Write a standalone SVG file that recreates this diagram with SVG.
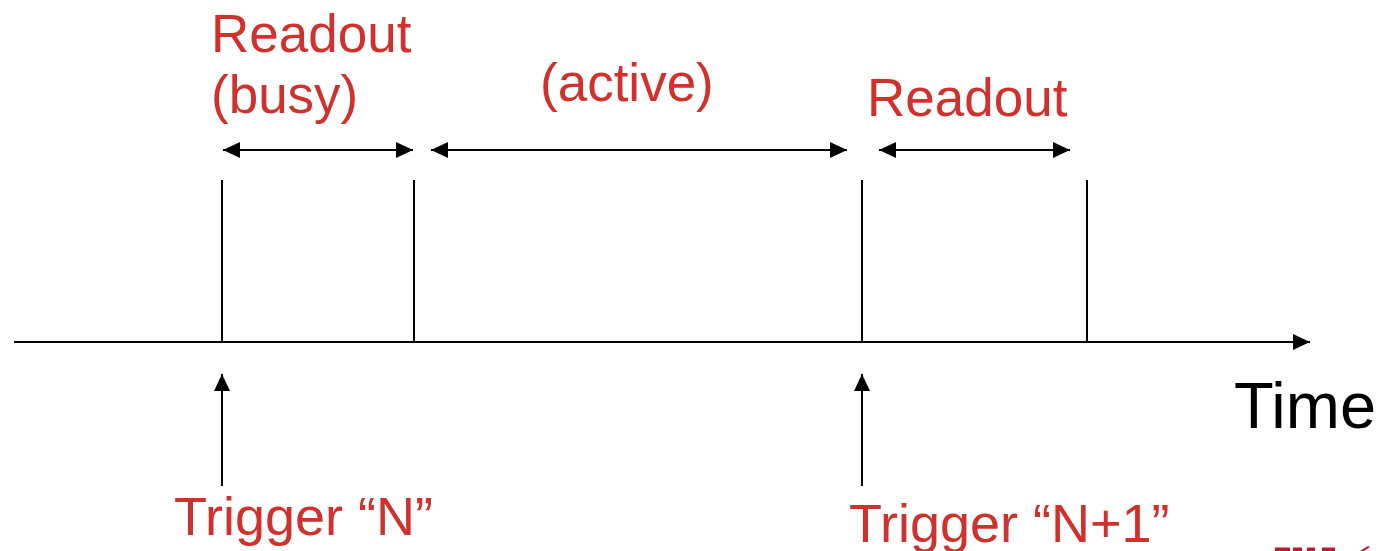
<svg xmlns="http://www.w3.org/2000/svg" width="1381" height="551" viewBox="0 0 1381 551">
<style>
.lbl{font-family:"Liberation Sans",Arial,sans-serif;font-size:53px;fill:#d0312d}
.trg{font-family:"Liberation Sans",Arial,sans-serif;font-size:54px;fill:#d0312d}
.blk{font-family:"Liberation Sans",Arial,sans-serif;font-size:65px;fill:#000}
.ln{stroke:#000;stroke-width:2;fill:none}
.arr{stroke:#000;stroke-width:2;fill:none;marker-end:url(#ah)}
.darr{stroke:#000;stroke-width:2;fill:none;marker-end:url(#ah);marker-start:url(#ah)}
.frag{fill:#c0192d}
</style>
<defs>
<marker id="ah" markerUnits="userSpaceOnUse" markerWidth="18" markerHeight="16" refX="17" refY="8" orient="auto-start-reverse">
<path d="M0,0 L17,8 L0,16 z" fill="#000"/>
</marker>
</defs>
<g id="connectors">
<line class="arr" x1="14" y1="342" x2="1310" y2="342"/>
<line class="ln" x1="222" y1="180" x2="222" y2="342"/>
<line class="ln" x1="414" y1="180" x2="414" y2="342"/>
<line class="ln" x1="862" y1="180" x2="862" y2="342"/>
<line class="ln" x1="1087" y1="180" x2="1087" y2="342"/>
<line class="darr" x1="223" y1="150" x2="413" y2="150"/>
<line class="darr" x1="431" y1="150" x2="847" y2="150"/>
<line class="darr" x1="879" y1="150" x2="1070" y2="150"/>
<line class="arr" x1="222" y1="486" x2="222" y2="374"/>
<line class="arr" x1="862" y1="486" x2="862" y2="374"/>
</g>
<g id="readout-busy"><text class="lbl" x="211" y="52">Readout</text><text class="lbl" x="211" y="113">(busy)</text></g>
<g id="active"><text class="lbl" x="540" y="101">(active)</text></g>
<g id="readout"><text class="lbl" x="867" y="116">Readout</text></g>
<g id="time"><text class="blk" x="1234" y="428">Time</text></g>
<g id="trigger-n"><text class="trg" x="174" y="535">Trigger “N”</text></g>
<g id="trigger-n1"><text class="trg" x="849" y="542">Trigger “N+1”</text></g>
<g id="logo-fragment">
<rect class="frag" x="1275" y="547.5" width="15" height="3.5"/>
<rect class="frag" x="1293" y="547.5" width="9" height="3.5"/>
<rect class="frag" x="1307" y="547.5" width="8" height="3.5"/>
<rect class="frag" x="1322" y="547.5" width="13" height="3.5"/>
<path class="frag" d="M1360,551 L1368,546 L1370,547 L1364,551 z"/>
</g>
</svg>
